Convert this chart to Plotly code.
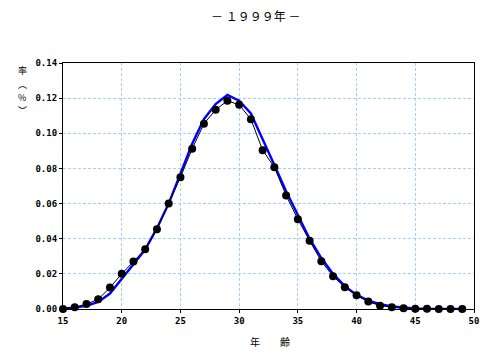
import plotly.graph_objects as go

ages = list(range(15, 50))
observed = [0.0000, 0.0010, 0.0028, 0.0055, 0.0122, 0.0200, 0.0270, 0.0340, 0.0454, 0.0600,
            0.0750, 0.0912, 0.1054, 0.1134, 0.1185, 0.1162, 0.1080, 0.0904, 0.0807, 0.0646,
            0.0511, 0.0388, 0.0272, 0.0186, 0.0124, 0.0078, 0.0042, 0.0019, 0.0010, 0.0004,
            0.0002, 0.0001, 0.0000, 0.0000, 0.0000]
fitted = [0.0003, 0.0008, 0.0018, 0.0040, 0.0088, 0.0173, 0.0255, 0.0338, 0.0460, 0.0600,
          0.0770, 0.0940, 0.1080, 0.1166, 0.1218, 0.1185, 0.1113, 0.0970, 0.0820, 0.0670,
          0.0530, 0.0400, 0.0290, 0.0200, 0.0130, 0.0080, 0.0048, 0.0027, 0.0014, 0.0007,
          0.0003, 0.0001, 0.0000, 0.0000, 0.0000]
x_ticks = [15, 20, 25, 30, 35, 40, 45, 50]
y_ticks = [0.00, 0.02, 0.04, 0.06, 0.08, 0.10, 0.12, 0.14]
y_title_chars = ["率", "︵", "%", "︶"]

ML, MR, MT, MB = 63, 26, 63, 52
W, H = 500, 361
PW, PH = W - ML - MR, H - MT - MB


def px_x(x):
    return (x - ML) / PW


def px_y(y):
    return (H - MB - y) / PH


fig = go.Figure()
fig.add_trace(go.Scatter(x=ages, y=fitted, mode="lines",
                         line=dict(color="#0000ff", width=2.4),
                         cliponaxis=False, showlegend=False))
fig.add_trace(go.Scatter(x=ages, y=observed, mode="lines+markers",
                         line=dict(color="black", width=1),
                         marker=dict(color="black", size=8),
                         cliponaxis=False, showlegend=False))

tickfont = dict(family="DejaVu Sans Mono", size=9, color="black", weight="bold")
grid = dict(showgrid=True, gridcolor="#9fd0ff", griddash="3px,2px", gridwidth=1,
            showline=True, linecolor="black", linewidth=1.2, mirror=True,
            zeroline=False, ticks="outside", ticklen=3, tickcolor="black",
            tickfont=tickfont)

fig.update_xaxes(range=[15, 50], tickvals=x_ticks, ticktext=[str(v) for v in x_ticks], **grid)
fig.update_yaxes(range=[0, 0.14], tickvals=y_ticks, ticktext=[f"{v:.2f}" for v in y_ticks], **grid)

annotations = [
    dict(text="－ １９９９年 －", x=px_x(255), y=px_y(16), xref="paper", yref="paper",
         xanchor="center", yanchor="middle", showarrow=False,
         font=dict(family="Noto Sans CJK JP", size=12, color="black")),
    dict(text="年　　齢", x=px_x(270), y=px_y(341), xref="paper", yref="paper",
         xanchor="center", yanchor="middle", showarrow=False,
         font=dict(family="Noto Sans CJK JP", size=10, color="black")),
]
for ch, ypx in zip(y_title_chars, [71, 84, 97, 111]):
    annotations.append(dict(text=ch, x=px_x(22), y=px_y(ypx), xref="paper", yref="paper",
                            xanchor="center", yanchor="middle", showarrow=False,
                            font=dict(family="Noto Sans CJK JP", size=9, color="black")))

fig.update_layout(
    width=W, height=H,
    margin=dict(l=ML, r=MR, t=MT, b=MB),
    paper_bgcolor="white", plot_bgcolor="white",
    font=dict(family="Noto Sans CJK JP"),
    annotations=annotations,
)
fig.write_html("out.html")
